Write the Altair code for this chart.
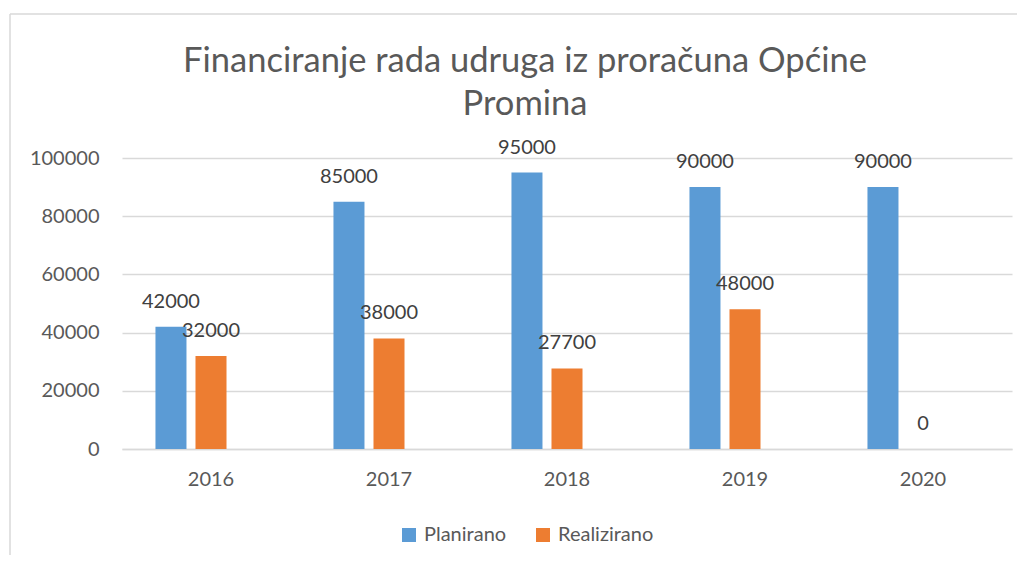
import altair as alt
import pandas as pd

years = ["2016", "2017", "2018", "2019", "2020"]
planirano = [42000, 85000, 95000, 90000, 90000]
realizirano = [32000, 38000, 27700, 48000, 0]
series = ["Planirano", "Realizirano"]
colors = ["#5B9BD5", "#ED7D31"]
title_lines = ["Financiranje rada udruga iz proračuna Općine", "Promina"]

rows = []
for i, y in enumerate(years):
    rows.append({"godina": y, "serija": series[0], "iznos": planirano[i]})
    rows.append({"godina": y, "serija": series[1], "iznos": realizirano[i]})
df = pd.DataFrame(rows)

FONT = "Lato"
GREY = "#595959"
FRAME = "#d9d9d9"

x_enc = alt.X("godina:N", sort=years,
              scale=alt.Scale(paddingInner=0.376, paddingOuter=0.188),
              axis=alt.Axis(title=None, labelAngle=0, ticks=False, domainColor=FRAME,
                            domainWidth=1.5, labelPadding=20, labelFontSize=20,
                            labelColor=GREY, labelFont=FONT))
xo_enc = alt.XOffset("serija:N",
                     scale=alt.Scale(domain=series + ["_"], paddingInner=0.225, paddingOuter=0))
y_enc = alt.Y("iznos:Q",
              scale=alt.Scale(domain=[0, 100000]),
              axis=alt.Axis(title=None, values=[0, 20000, 40000, 60000, 80000, 100000],
                            format="d", domain=False, ticks=False, labelPadding=23,
                            labelFontSize=20, labelColor=GREY, labelFont=FONT,
                            gridColor=FRAME, gridWidth=1.5))

base = alt.Chart(df).encode(x=x_enc, xOffset=xo_enc, y=y_enc)

bars = base.mark_bar().encode(
    color=alt.Color("serija:N",
                    scale=alt.Scale(domain=series, range=colors),
                    legend=alt.Legend(title=None, orient="none", direction="horizontal",
                                      legendX=277, legendY=367, symbolType="square",
                                      symbolSize=196, symbolStrokeWidth=0,
                                      labelFontSize=20, labelFont=FONT, labelColor=GREY,
                                      labelOffset=5, columnPadding=26, padding=0))
)

labels = base.mark_text(dy=-25, fontSize=20, font=FONT, color="#404040").encode(
    text=alt.Text("iznos:Q", format="d")
)

# light chart-area frame (top and left edges), decoration only
frame_src = alt.Chart(pd.DataFrame({"k": [0]}))
frame_top = frame_src.mark_rule(color=FRAME, strokeWidth=1.5).encode(
    x=alt.value(-112), x2=alt.value(905), y=alt.value(-144))
frame_left = frame_src.mark_rule(color=FRAME, strokeWidth=1.5).encode(
    x=alt.value(-112), y=alt.value(-144), y2=alt.value(405))

chart = (frame_top + frame_left + bars + labels).properties(
    width=890,
    height=291,
    autosize=alt.AutoSizeParams(type="none"),
    padding={"left": 114, "top": 150, "right": 5, "bottom": 106},
    title=alt.TitleParams(text=title_lines, anchor="middle", frame="group",
                          fontSize=34.5, font=FONT, color=GREY, fontWeight="normal",
                          lineHeight=43, offset=-109, dx=-42),
).configure_view(stroke=None)

chart.save("out.html", embed_options={"renderer": "svg", "actions": False})
